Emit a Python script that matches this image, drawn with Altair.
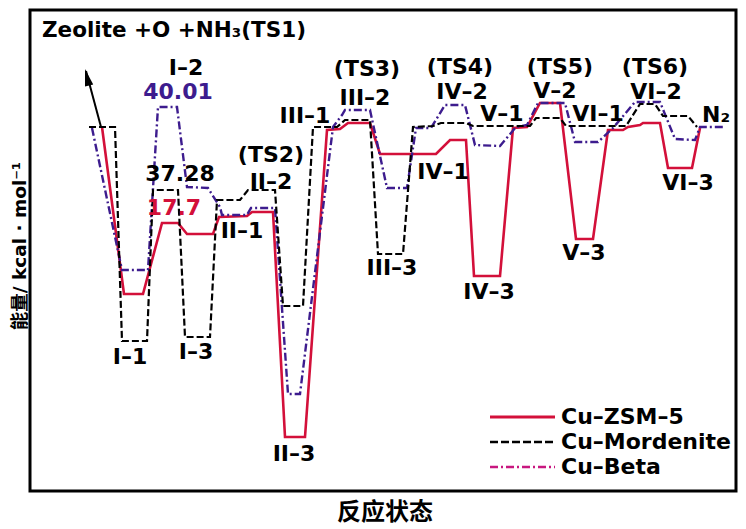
import altair as alt
import pandas as pd

# ---------------- data (reaction coordinate, relative energy) ----
series_names = ["Cu–ZSM–5", "Cu–Mordenite", "Cu–Beta"]

zsm_rc = [102, 124, 143, 162, 178, 187, 213, 219, 247, 252, 273, 285, 305, 327, 340, 348, 370,
          380, 436, 450, 466, 474, 500, 513, 527, 540, 560, 576, 593, 608, 623, 628, 640, 643,
          660, 668, 692, 700]
zsm_e = [0, -167, -167, -96, -96, -107, -107, -90, -89, -85, -85, -310, -310, -3, -2, 4, 4,
         -27, -27, -13, -13, -149, -149, -1, 0, 24, 24, -112, -112, -3, -3, 0, 2, 4,
         4, -41, -41, -1]

mor_rc = [89, 115, 122, 147, 153, 178, 185, 210, 217, 240, 248, 275, 283, 303, 313, 337, 345,
          370, 378, 403, 413, 433, 441, 466, 473, 530, 536, 560, 566, 626, 640, 655, 663, 688, 697]
mor_e = [0, 0, -214, -214, -63, -63, -210, -210, -73, -73, -63, -63, -179, -179, 0, 0, 7,
         7, -127, -127, 0, 1, 4, 4, 1, 1, 9, 9, 1, 1, 23, 23, 11, 11, 0]

beta_rc = [92, 122, 148, 158, 177, 187, 208, 220, 222, 247, 251, 275, 288, 300, 333, 342, 345,
           370, 387, 407, 416, 431, 445, 465, 475, 500, 516, 527, 538, 565, 575, 598, 613, 635,
           660, 675, 695, 700, 723]
beta_e = [-1, -143, -143, 20, 20, -60, -61, -80, -88, -88, -81, -81, -267, -267, 0, 12, 17,
          17, -61, -61, -1, -1, 22, 22, -18, -19, 0, 2, 24, 24, -15, -15, -1, 25,
          25, -12, -13, 0, 0]

arrow_rc = [101, 86]
arrow_e = [0, 56]

# state labels: text, reaction coordinate, energy
black_labels = ["I–2", "37.28", "(TS2)", "II–2", "III–1", "II–1", "I–1", "I–3", "II–3",
                "(TS3)", "III–2", "III–3", "(TS4)", "IV–2", "V–1", "IV–1", "IV–3",
                "(TS5)", "V–2", "VI–1", "V–3", "(TS6)", "VI–2", "N₂", "VI–3"]
black_label_rc = [186, 180, 271, 271, 305, 242, 130, 196, 294,
                  367, 365, 392, 460, 462, 502, 443, 489,
                  560, 555, 598, 584, 655, 656, 716, 688]
black_label_e = [59, -47, -28, -55, 11, -104, -230, -225, -327,
                 58, 29, -141, 60, 35, 13, -45, -165,
                 60, 36, 13, -126, 60, 35, 12, -56]
beta_labels = ["40.01"]
beta_label_rc = [178]
beta_label_e = [35]
zsm_labels = ["17.7"]
zsm_label_rc = [174]
zsm_label_e = [-81]
title_text = ["Zeolite +O +NH₃(TS1)"]
title_rc = [42]
title_e = [96]
x_title = "反应状态"
y_title = "能量/ kcal · mol⁻¹"

# ---------------- styles ----------------
RED = "#d3103a"
PURPLE = "#3d1c8e"
MAGENTA = "#c8177f"
FONT = "DejaVu Sans"
CJK = "Noto Sans CJK SC"

xs = alt.Scale(domain=[30, 736], nice=False, zero=False)
ys = alt.Scale(domain=[-364, 117], nice=False, zero=False)


def line_layer(rc, e, color, width, dash=None):
    df = pd.DataFrame({"rc": rc, "e": e, "i": list(range(len(rc)))})
    kw = dict(color=color, strokeWidth=width)
    if dash:
        kw["strokeDash"] = dash
    return alt.Chart(df).mark_line(**kw).encode(
        x=alt.X("rc:Q", scale=xs, axis=None),
        y=alt.Y("e:Q", scale=ys, axis=None),
        order="i:Q",
    )


def text_layer(texts, rc, e, color, size=22, align="center"):
    df = pd.DataFrame({"t": texts, "rc": rc, "e": e})
    return alt.Chart(df).mark_text(color=color, font=FONT, fontSize=size, fontWeight="bold",
                                   align=align, baseline="middle").encode(
        x=alt.X("rc:Q", scale=xs, axis=None),
        y=alt.Y("e:Q", scale=ys, axis=None),
        text="t:N",
    )


layers = [
    line_layer(zsm_rc, zsm_e, RED, 2.6),
    line_layer(beta_rc, beta_e, PURPLE, 2.4, dash=[8, 3, 2, 3]),
    line_layer(mor_rc, mor_e, "black", 2.2, dash=[7, 3]),
    line_layer(arrow_rc, arrow_e, "black", 2),
]

# arrow head
arrow_df = pd.DataFrame({"rc": [arrow_rc[1] - 1], "e": [arrow_e[1] + 2]})
layers.append(
    alt.Chart(arrow_df).mark_point(shape="M0,0L0.4,1.6L-0.4,1.6Z", size=450, filled=True,
                                   color="black", opacity=1, angle=346).encode(
        x=alt.X("rc:Q", scale=xs, axis=None), y=alt.Y("e:Q", scale=ys, axis=None))
)

layers.append(text_layer(black_labels, black_label_rc, black_label_e, "black"))
layers.append(text_layer(beta_labels, beta_label_rc, beta_label_e, PURPLE))
layers.append(text_layer(zsm_labels, zsm_label_rc, zsm_label_e, RED))
layers.append(text_layer(title_text, title_rc, title_e, "black", size=21.5, align="left"))

# axis titles
layers.append(alt.Chart(pd.DataFrame({"t": [x_title]})).mark_text(
    font=CJK, fontSize=24, fontWeight="bold", color="black", align="center",
    baseline="middle").encode(text="t:N", x=alt.value(355), y=alt.value(503)))
layers.append(alt.Chart(pd.DataFrame({"t": [y_title]})).mark_text(
    font=f'"{FONT}", "{CJK}"', fontSize=18.5, fontWeight="bold", color="black", align="center",
    baseline="middle", angle=270).encode(text="t:N", x=alt.value(-10.5), y=alt.value(236)))

# legend (drawn inside the plot, bottom right)
legend_colors = [RED, "black", MAGENTA]
legend_dash = [None, [8, 3], [8, 3, 2, 3]]
legend_width = [3.2, 2.4, 2.6]
for i, name in enumerate(series_names):
    d = pd.DataFrame({"label": [name]})
    kw = dict(color=legend_colors[i], strokeWidth=legend_width[i])
    if legend_dash[i]:
        kw["strokeDash"] = legend_dash[i]
    yy = 407 + 25 * i
    layers.append(alt.Chart(d).mark_rule(**kw).encode(
        x=alt.value(460), x2=alt.value(525), y=alt.value(yy)))
    layers.append(alt.Chart(d).mark_text(align="left", baseline="middle", font=FONT,
                                         fontSize=22, fontWeight="bold", color="black").encode(
        text="label:N", x=alt.value(531), y=alt.value(yy)))

chart = alt.layer(*layers).properties(
    width=706, height=481,
    autosize=alt.AutoSizeParams(type="none"),
    padding={"left": 22, "top": 2, "right": 2, "bottom": 38},
    background="white",
).configure_view(stroke="black", strokeWidth=3)

chart.save("out.html", embed_options={"renderer": "svg", "actions": False})
